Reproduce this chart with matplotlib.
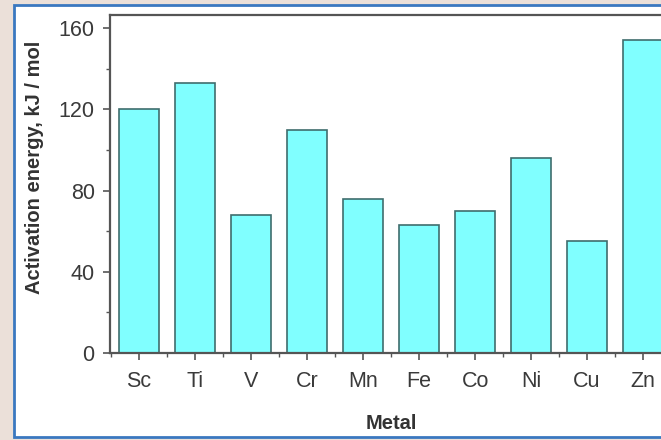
import matplotlib
matplotlib.use("Agg")
import matplotlib.pyplot as plt
from matplotlib.patches import Rectangle
from matplotlib.ticker import MultipleLocator, FixedLocator

plt.rcParams["font.family"] = ["Liberation Sans", "DejaVu Sans"]

metals = ["Sc", "Ti", "V", "Cr", "Mn", "Fe", "Co", "Ni", "Cu", "Zn"]
energies = [120, 133, 68, 110, 76, 63, 70, 96, 55, 154]
y_ticks = [0, 40, 80, 120, 160]

W, H = 661, 440
fig = plt.figure(figsize=(W / 100, H / 100), dpi=100)
fig.patch.set_facecolor("#ebe0d9")

# white panel with blue frame
fig.patches.append(Rectangle((14 / W, 3 / H), 1.0, 432 / H, transform=fig.transFigure,
                             facecolor="white", edgecolor="#3a78c0", linewidth=2.0, zorder=-1))

x0, x1 = 110, 110 + 56 * 10.04
y_top, y_bot = 15, 353
ax = fig.add_axes([x0 / W, 1 - y_bot / H, (x1 - x0) / W, (y_bot - y_top) / H])
ax.set_zorder(2)
ax.set_facecolor("white")

xs = list(range(len(metals)))
ax.bar(xs, energies, width=0.71, color="#80ffff", edgecolor="#3f6d6d", linewidth=1.2, zorder=2)

ax.set_xlim(-0.52, len(metals) - 0.48)
ax.set_ylim(0, 166.4)
ax.set_yticks(y_ticks)
ax.yaxis.set_minor_locator(MultipleLocator(20))
ax.set_xticks(xs)
ax.set_xticklabels(metals)
ax.xaxis.set_minor_locator(FixedLocator([i + 0.5 for i in range(-1, len(metals))]))

for s in ax.spines.values():
    s.set_color("#555555")
    s.set_linewidth(1.6)

ax.tick_params(axis="both", which="major", direction="out", length=5, width=1.2,
               colors="#555555", labelsize=15.5, labelcolor="#3a3a3a")
ax.tick_params(axis="both", which="minor", direction="out", length=3, width=1.0, colors="#555555")
ax.tick_params(axis="x", pad=8)
ax.tick_params(axis="y", pad=6)

ax.set_xlabel("Metal", fontsize=14.5, fontweight="bold", color="#333333", labelpad=16)
ax.set_ylabel("Activation energy, kJ / mol", fontsize=14.5, fontweight="bold", color="#333333")
ax.yaxis.set_label_coords(-0.117, 0.549)

fig.savefig("out.png", dpi=100, facecolor=fig.get_facecolor())
